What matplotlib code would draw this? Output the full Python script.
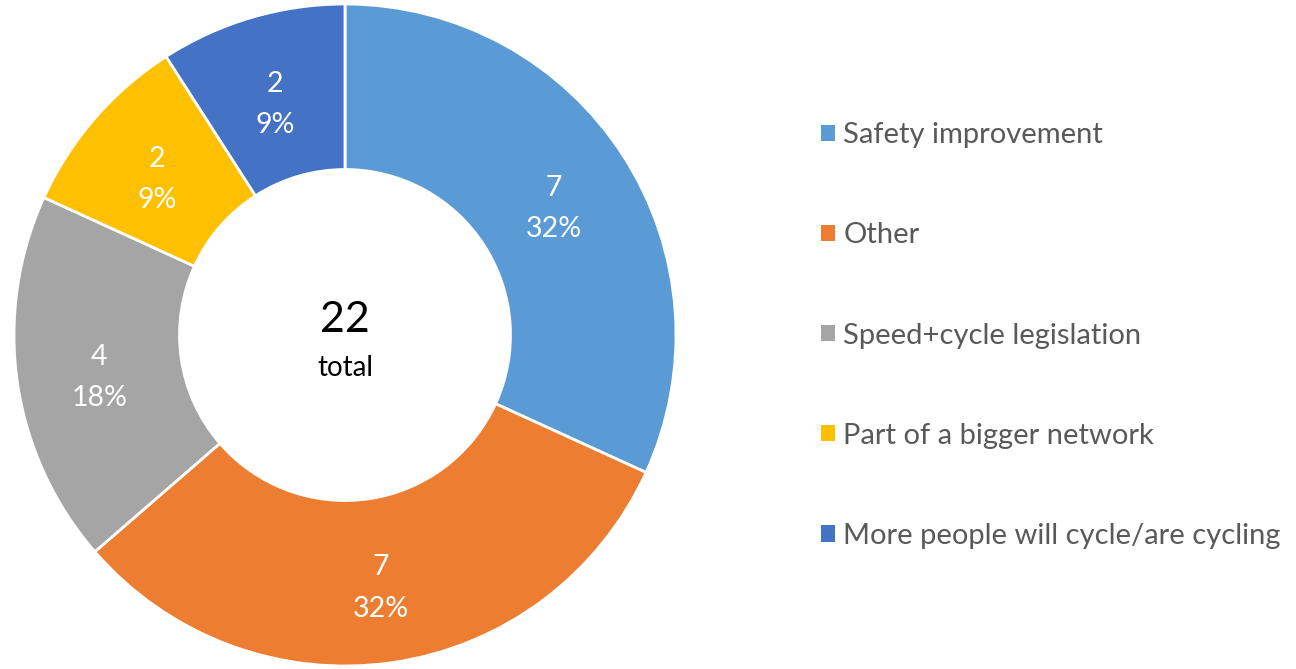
import numpy as np
import matplotlib.pyplot as plt
from matplotlib.patches import Patch

plt.rcParams['font.family'] = ['Lato', 'DejaVu Sans']

categories = ['Safety improvement', 'Other', 'Speed+cycle legislation',
              'Part of a bigger network', 'More people will cycle/are cycling']
values = [7, 7, 4, 2, 2]
colors = ['#5B9BD5', '#ED7D31', '#A5A5A5', '#FFC000', '#4472C4']
total = sum(values)

fig = plt.figure(figsize=(12.96, 6.69), dpi=100)
ax = fig.add_axes([14 / 1296, 3 / 669, 662 / 1296, 662 / 669])

wedges, _ = ax.pie(values, colors=colors, startangle=90, counterclock=False,
                   radius=1.0, wedgeprops=dict(width=0.5, edgecolor='white', linewidth=2))

# value / percent labels in the middle of the ring
ang = 90.0
for v in values:
    sweep = 360.0 * v / total
    mid = np.deg2rad(ang - sweep / 2)
    ang -= sweep
    x, y = 0.75 * np.cos(mid), 0.75 * np.sin(mid) - 0.022
    ax.text(x, y + 0.062, '%d' % v, ha='center', va='center', color='white', fontsize=20.5)
    ax.text(x, y - 0.062, '%d%%' % round(100.0 * v / total),
            ha='center', va='center', color='white', fontsize=20.5)

ax.text(0, 0.045, str(total), ha='center', va='center', fontsize=31)
ax.text(0, -0.1, 'total', ha='center', va='center', fontsize=20)
ax.set_xlim(-1, 1)
ax.set_ylim(-1, 1)
ax.set_aspect('equal')
ax.axis('off')

handles = [Patch(facecolor=c, edgecolor='none') for c in colors]
leg = fig.legend(handles, categories, loc='center left', bbox_to_anchor=(821 / 1296, 0.4985),
                 frameon=False, fontsize=21, handlelength=0.48, handleheight=0.48,
                 handletextpad=0.28, labelspacing=2.545, borderpad=0, borderaxespad=0)
for t in leg.get_texts():
    t.set_color('#595959')

fig.savefig('out.png', dpi=100)
